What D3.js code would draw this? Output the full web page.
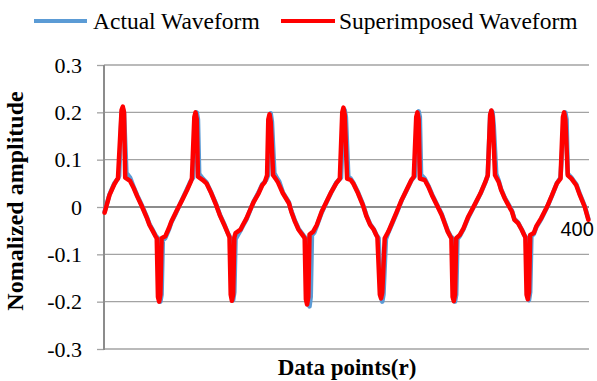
<!DOCTYPE html>
<html>
<head>
<meta charset="utf-8">
<script src="https://cdn.jsdelivr.net/npm/d3@7"></script>
<style>
  html, body { margin: 0; padding: 0; background: #fff; }
  svg { display: block; }
  .serif { font-family: "Liberation Serif", "Times New Roman", serif; }
</style>
</head>
<body>
<svg id="chart" width="597" height="381"></svg>
<script>
// ---- data (data-point index, normalized amplitude) ----
const yTicks = [-0.3, -0.2, -0.1, 0, 0.1, 0.2, 0.3];
const yTickLabels = ["-0.3", "-0.2", "-0.1", "0", "0.1", "0.2", "0.3"];
const xTickLabel = "400";
const seriesNames = ["Actual Waveform", "Superimposed Waveform"];
const seriesColors = ["#5B9BD5", "#FF0000"];

const actualPoints = [
  [1,-0.01],[5,0.026],[9,0.05],[12,0.06],[13,0.066],[15,0.2],[16,0.208],[17,0.2],[19,0.072],[22,0.062],[25,0.042],[28,0.024],[32,0.002],
  [36,-0.022],[38,-0.036],[41,-0.05],[43,-0.06],[45,-0.066],[46,-0.19],[47,-0.2],[48,-0.185],[49,-0.07],[51,-0.066],[54,-0.048],[56,-0.033],[60,-0.012],
  [65,0.016],[69,0.038],[72,0.055],[74,0.062],[76,0.19],[77,0.2],[78,0.185],[79,0.07],[82,0.06],[85,0.052],[89,0.03],[93,0.006],[96,-0.016],
  [100,-0.038],[103,-0.057],[105,-0.066],[106,-0.185],[107,-0.197],[108,-0.18],[109,-0.068],[113,-0.05],[115,-0.04],[118,-0.026],[121,-0.007],[124,0.012],
  [128,0.031],[131,0.048],[134,0.056],[136,0.068],[137,0.185],[138,0.198],[139,0.18],[141,0.072],[143,0.062],[145,0.054],[148,0.031],[153,0.01],
  [155,-0.008],[158,-0.029],[161,-0.046],[165,-0.06],[167,-0.066],[169,-0.2],[170,-0.21],[171,-0.19],[172,-0.06],[174,-0.054],[176,-0.04],[180,-0.012],
  [184,0.01],[188,0.031],[192,0.051],[196,0.062],[198,0.195],[199,0.205],[200,0.19],[202,0.064],[204,0.06],[206,0.052],[210,0.031],[214,0.006],
  [217,-0.018],[220,-0.036],[223,-0.047],[225,-0.058],[227,-0.066],[229,-0.19],[230,-0.2],[231,-0.185],[233,-0.068],[235,-0.054],[238,-0.036],[242,-0.012],
  [246,0.014],[250,0.035],[254,0.056],[257,0.066],[259,0.19],[260,0.202],[261,0.19],[262,0.068],[265,0.06],[268,0.045],[271,0.027],[275,0.006],
  [279,-0.015],[282,-0.036],[284,-0.05],[286,-0.06],[288,-0.066],[289,-0.19],[290,-0.2],[291,-0.185],[292,-0.068],[294,-0.061],[297,-0.047],[301,-0.022],
  [306,0.003],[311,0.028],[315,0.052],[317,0.066],[319,0.195],[320,0.203],[321,0.2],[322,0.17],[324,0.07],[326,0.056],[328,0.038],[331,0.02],[334,0.006],
  [337,-0.008],[339,-0.025],[342,-0.033],[345,-0.047],[347,-0.058],[349,-0.066],[350,-0.185],[351,-0.197],[352,-0.18],[353,-0.062],[355,-0.057],
  [357,-0.043],[361,-0.026],[366,0.0],[370,0.024],[374,0.05],[377,0.062],[380,0.19],[381,0.2],[382,0.185],[383,0.07],[386,0.062],[390,0.048],
  [393,0.027],[397,0.002],[400,-0.025]
];

const superimposedPoints = [
  [1,-0.012],[5,0.025],[9,0.048],[11,0.057],[12,0.06],[15,0.205],[16,0.212],[17,0.2],[18,0.062],[22,0.055],[25,0.04],[28,0.022],[32,0.0],
  [36,-0.024],[38,-0.038],[41,-0.052],[43,-0.062],[44,-0.066],[45,-0.19],[46,-0.2],[47,-0.185],[48,-0.066],[51,-0.062],[54,-0.045],[56,-0.031],
  [60,-0.01],[65,0.015],[69,0.036],[72,0.053],[73,0.06],[75,0.19],[76,0.2],[77,0.185],[78,0.064],[82,0.057],[85,0.05],[89,0.029],[93,0.004],
  [96,-0.017],[100,-0.04],[103,-0.058],[104,-0.064],[105,-0.185],[106,-0.198],[107,-0.185],[108,-0.064],[109,-0.055],[113,-0.048],[115,-0.038],
  [118,-0.024],[121,-0.006],[124,0.011],[128,0.029],[131,0.046],[133,0.052],[135,0.067],[136,0.185],[137,0.196],[138,0.18],[140,0.067],[142,0.06],
  [144,0.052],[148,0.029],[153,0.008],[155,-0.01],[158,-0.031],[161,-0.048],[165,-0.062],[166,-0.066],[167,-0.195],[168,-0.206],[169,-0.19],
  [170,-0.058],[173,-0.052],[176,-0.038],[180,-0.01],[184,0.011],[188,0.032],[192,0.05],[195,0.06],[197,0.2],[198,0.21],[199,0.195],[201,0.06],
  [204,0.057],[206,0.05],[210,0.029],[214,0.004],[217,-0.02],[220,-0.038],[223,-0.048],[225,-0.059],[226,-0.064],[228,-0.185],[229,-0.193],[230,-0.18],
  [232,-0.066],[235,-0.052],[238,-0.034],[242,-0.01],[246,0.015],[250,0.036],[254,0.057],[256,0.064],[258,0.19],[259,0.2],[260,0.185],[261,0.06],
  [265,0.057],[268,0.043],[271,0.025],[275,0.004],[279,-0.017],[282,-0.038],[284,-0.052],[286,-0.062],[287,-0.066],[288,-0.19],
  [289,-0.199],[290,-0.185],[291,-0.066],[294,-0.059],[297,-0.045],[301,-0.02],[306,0.004],[311,0.029],[315,0.053],[317,0.067],[319,0.195],[320,0.204],
  [321,0.19],[323,0.067],[326,0.053],[328,0.036],[331,0.018],[334,0.004],[337,-0.01],[339,-0.027],[342,-0.034],[345,-0.048],[347,-0.059],
  [348,-0.064],[349,-0.185],[350,-0.195],[351,-0.18],[352,-0.059],[355,-0.055],[357,-0.041],[361,-0.024],[366,0.001],[370,0.025],[374,0.05],[377,0.06],
  [379,0.19],[380,0.2],[381,0.185],[383,0.067],[386,0.06],[390,0.046],[393,0.025],[397,0.0],[400,-0.027]
];

// ---- layout ----
const svg = d3.select("#chart");
const plot = { left: 104, right: 589, top: 65, bottom: 349 };
const nPoints = 400;

const x = d3.scaleLinear().domain([0.5, nPoints + 0.5]).range([plot.left, plot.right]);
const y = d3.scaleLinear().domain([-0.3, 0.3]).range([plot.bottom, plot.top]);

svg.append("rect").attr("width", 597).attr("height", 381).attr("fill", "#fff");

// gridlines
svg.append("g").selectAll("line")
  .data(yTicks.filter(d => d !== 0))
  .join("line")
  .attr("x1", plot.left).attr("x2", plot.right)
  .attr("y1", d => y(d)).attr("y2", d => y(d))
  .attr("stroke", "#a3a3a3").attr("stroke-width", 1.3);

// y axis with ticks and labels
const yAxis = d3.axisLeft(y)
  .tickValues(yTicks)
  .tickFormat((d, i) => yTickLabels[i])
  .tickSize(7)
  .tickPadding(15);
const gy = svg.append("g").attr("transform", `translate(${plot.left},0)`).call(yAxis);
gy.attr("font-family", null).attr("font-size", null);
gy.select(".domain").remove();
gy.selectAll(".tick line").attr("stroke", "#a3a3a3").attr("stroke-width", 1.3);
gy.selectAll(".tick text")
  .attr("class", "serif")
  .style("font-family", "'Liberation Serif', 'Times New Roman', serif")
  .style("font-size", "22px").attr("fill", "#000");

// vertical axis line
svg.append("line")
  .attr("x1", plot.left).attr("x2", plot.left)
  .attr("y1", plot.top).attr("y2", plot.bottom + 1)
  .attr("stroke", "#8c8c8c").attr("stroke-width", 2);

// horizontal (category) axis at zero
svg.append("line")
  .attr("x1", plot.left).attr("x2", plot.right)
  .attr("y1", y(0)).attr("y2", y(0))
  .attr("stroke", "#8c8c8c").attr("stroke-width", 2);

// series lines
const line = d3.line().x(d => x(d[0])).y(d => y(d[1]));
[actualPoints, superimposedPoints].forEach((pts, i) => {
  svg.append("path")
    .datum(pts)
    .attr("d", line)
    .attr("fill", "none")
    .attr("stroke", seriesColors[i])
    .attr("stroke-width", 4.5)
    .attr("stroke-linejoin", "round")
    .attr("stroke-linecap", "round");
});

// category label at the end of the axis
svg.append("text")
  .attr("x", x(nPoints) - 28).attr("y", 236)
  .style("font-family", "'Liberation Sans', Arial, sans-serif")
  .style("font-size", "20px").attr("fill", "#000")
  .text(xTickLabel);

// axis titles
svg.append("text")
  .attr("x", 347).attr("y", 375)
  .attr("text-anchor", "middle")
  .style("font-family", "'Liberation Serif', 'Times New Roman', serif")
  .style("font-weight", "bold").style("font-size", "23px")
  .text("Data points(r)");

svg.append("text")
  .attr("transform", "translate(23,201) rotate(-90)")
  .attr("text-anchor", "middle")
  .style("font-family", "'Liberation Serif', 'Times New Roman', serif")
  .style("font-weight", "bold").style("font-size", "24px")
  .text("Nomalized amplitude");

// legend
const legendItems = [
  { x1: 34, x2: 87, tx: 93 },
  { x1: 281, x2: 335, tx: 339 }
];
const lg = svg.append("g");
legendItems.forEach((it, i) => {
  lg.append("line")
    .attr("x1", it.x1).attr("x2", it.x2).attr("y1", 21).attr("y2", 21)
    .attr("stroke", seriesColors[i]).attr("stroke-width", 4);
  lg.append("text")
    .attr("x", it.tx).attr("y", 29)
    .style("font-family", "'Liberation Serif', 'Times New Roman', serif")
    .style("font-size", "23.5px").attr("fill", "#000")
    .text(seriesNames[i]);
});
</script>
</body>
</html>
